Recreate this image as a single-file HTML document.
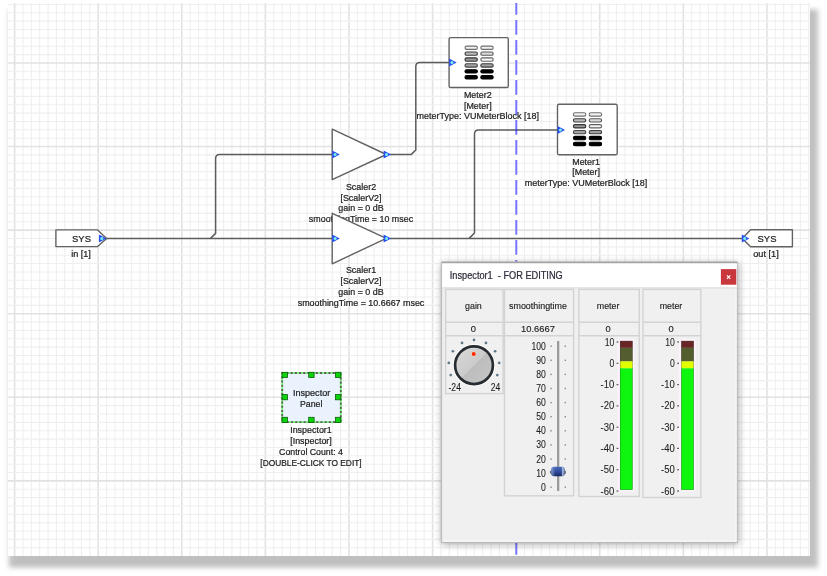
<!DOCTYPE html>
<html><head><meta charset="utf-8"><style>
html,body{margin:0;padding:0;background:#ffffff;width:827px;height:576px;overflow:hidden}
#cv{position:absolute;left:8px;top:3px;width:802.3px;height:553px;background:#fff;box-shadow:4.5px 9px 5px 3.3px rgba(0,0,0,0.25)}
#root{position:absolute;left:0;top:0;width:827px;height:576px;background:#fff;overflow:hidden;filter:blur(0.35px)}
svg{position:absolute;left:0;top:0}
text{font-family:'Liberation Sans',sans-serif}
</style></head><body>
<div id="root">
<div id="cv"></div>
<svg width="827" height="576" viewBox="0 0 827 576">
<defs>
<filter id="soft" x="-50%" y="-50%" width="200%" height="200%"><feGaussianBlur stdDeviation="0.5"/></filter>
<filter id="dlgsh" x="-10%" y="-10%" width="120%" height="120%"><feDropShadow dx="0.5" dy="1.2" stdDeviation="3.6" flood-color="#000" flood-opacity="0.36"/></filter>
<linearGradient id="kg" x1="0" y1="0" x2="1" y2="1">
<stop offset="0" stop-color="#dadada"/><stop offset="0.5" stop-color="#cbcbcb"/><stop offset="0.5" stop-color="#bdbdbd"/><stop offset="1" stop-color="#c6c6c6"/></linearGradient>
<linearGradient id="tg" x1="0" y1="0" x2="0" y2="1">
<stop offset="0" stop-color="#4a6ab8"/><stop offset="0.55" stop-color="#2d4c9c"/><stop offset="1" stop-color="#16275e"/></linearGradient>
<linearGradient id="tg2" x1="0" y1="0" x2="1" y2="0"><stop offset="0" stop-color="#9fb4e4" stop-opacity="0.7"/><stop offset="0.3" stop-color="#9fb4e4" stop-opacity="0"/><stop offset="0.75" stop-color="#c8d0e8" stop-opacity="0"/><stop offset="0.85" stop-color="#c8d0e8" stop-opacity="0.85"/><stop offset="1" stop-color="#c8d0e8" stop-opacity="0.3"/></linearGradient>
<clipPath id="cvclip"><rect x="8" y="3" width="802.3" height="553"/></clipPath>
</defs>
<g clip-path="url(#cvclip)">
<line x1="14.60" y1="3" x2="14.60" y2="556" stroke="#e2e2e2" stroke-width="1.6"/>
<line x1="22.96" y1="3" x2="22.96" y2="556" stroke="#efefef" stroke-width="1.1"/>
<line x1="31.32" y1="3" x2="31.32" y2="556" stroke="#efefef" stroke-width="1.1"/>
<line x1="39.68" y1="3" x2="39.68" y2="556" stroke="#efefef" stroke-width="1.1"/>
<line x1="48.04" y1="3" x2="48.04" y2="556" stroke="#efefef" stroke-width="1.1"/>
<line x1="56.40" y1="3" x2="56.40" y2="556" stroke="#efefef" stroke-width="1.1"/>
<line x1="64.75" y1="3" x2="64.75" y2="556" stroke="#efefef" stroke-width="1.1"/>
<line x1="73.11" y1="3" x2="73.11" y2="556" stroke="#efefef" stroke-width="1.1"/>
<line x1="81.47" y1="3" x2="81.47" y2="556" stroke="#efefef" stroke-width="1.1"/>
<line x1="89.83" y1="3" x2="89.83" y2="556" stroke="#efefef" stroke-width="1.1"/>
<line x1="98.19" y1="3" x2="98.19" y2="556" stroke="#e2e2e2" stroke-width="1.6"/>
<line x1="106.55" y1="3" x2="106.55" y2="556" stroke="#efefef" stroke-width="1.1"/>
<line x1="114.91" y1="3" x2="114.91" y2="556" stroke="#efefef" stroke-width="1.1"/>
<line x1="123.27" y1="3" x2="123.27" y2="556" stroke="#efefef" stroke-width="1.1"/>
<line x1="131.63" y1="3" x2="131.63" y2="556" stroke="#efefef" stroke-width="1.1"/>
<line x1="139.99" y1="3" x2="139.99" y2="556" stroke="#efefef" stroke-width="1.1"/>
<line x1="148.34" y1="3" x2="148.34" y2="556" stroke="#efefef" stroke-width="1.1"/>
<line x1="156.70" y1="3" x2="156.70" y2="556" stroke="#efefef" stroke-width="1.1"/>
<line x1="165.06" y1="3" x2="165.06" y2="556" stroke="#efefef" stroke-width="1.1"/>
<line x1="173.42" y1="3" x2="173.42" y2="556" stroke="#efefef" stroke-width="1.1"/>
<line x1="181.78" y1="3" x2="181.78" y2="556" stroke="#e2e2e2" stroke-width="1.6"/>
<line x1="190.14" y1="3" x2="190.14" y2="556" stroke="#efefef" stroke-width="1.1"/>
<line x1="198.50" y1="3" x2="198.50" y2="556" stroke="#efefef" stroke-width="1.1"/>
<line x1="206.86" y1="3" x2="206.86" y2="556" stroke="#efefef" stroke-width="1.1"/>
<line x1="215.22" y1="3" x2="215.22" y2="556" stroke="#efefef" stroke-width="1.1"/>
<line x1="223.57" y1="3" x2="223.57" y2="556" stroke="#efefef" stroke-width="1.1"/>
<line x1="231.93" y1="3" x2="231.93" y2="556" stroke="#efefef" stroke-width="1.1"/>
<line x1="240.29" y1="3" x2="240.29" y2="556" stroke="#efefef" stroke-width="1.1"/>
<line x1="248.65" y1="3" x2="248.65" y2="556" stroke="#efefef" stroke-width="1.1"/>
<line x1="257.01" y1="3" x2="257.01" y2="556" stroke="#efefef" stroke-width="1.1"/>
<line x1="265.37" y1="3" x2="265.37" y2="556" stroke="#e2e2e2" stroke-width="1.6"/>
<line x1="273.73" y1="3" x2="273.73" y2="556" stroke="#efefef" stroke-width="1.1"/>
<line x1="282.09" y1="3" x2="282.09" y2="556" stroke="#efefef" stroke-width="1.1"/>
<line x1="290.45" y1="3" x2="290.45" y2="556" stroke="#efefef" stroke-width="1.1"/>
<line x1="298.81" y1="3" x2="298.81" y2="556" stroke="#efefef" stroke-width="1.1"/>
<line x1="307.17" y1="3" x2="307.17" y2="556" stroke="#efefef" stroke-width="1.1"/>
<line x1="315.52" y1="3" x2="315.52" y2="556" stroke="#efefef" stroke-width="1.1"/>
<line x1="323.88" y1="3" x2="323.88" y2="556" stroke="#efefef" stroke-width="1.1"/>
<line x1="332.24" y1="3" x2="332.24" y2="556" stroke="#efefef" stroke-width="1.1"/>
<line x1="340.60" y1="3" x2="340.60" y2="556" stroke="#efefef" stroke-width="1.1"/>
<line x1="348.96" y1="3" x2="348.96" y2="556" stroke="#e2e2e2" stroke-width="1.6"/>
<line x1="357.32" y1="3" x2="357.32" y2="556" stroke="#efefef" stroke-width="1.1"/>
<line x1="365.68" y1="3" x2="365.68" y2="556" stroke="#efefef" stroke-width="1.1"/>
<line x1="374.04" y1="3" x2="374.04" y2="556" stroke="#efefef" stroke-width="1.1"/>
<line x1="382.40" y1="3" x2="382.40" y2="556" stroke="#efefef" stroke-width="1.1"/>
<line x1="390.75" y1="3" x2="390.75" y2="556" stroke="#efefef" stroke-width="1.1"/>
<line x1="399.11" y1="3" x2="399.11" y2="556" stroke="#efefef" stroke-width="1.1"/>
<line x1="407.47" y1="3" x2="407.47" y2="556" stroke="#efefef" stroke-width="1.1"/>
<line x1="415.83" y1="3" x2="415.83" y2="556" stroke="#efefef" stroke-width="1.1"/>
<line x1="424.19" y1="3" x2="424.19" y2="556" stroke="#efefef" stroke-width="1.1"/>
<line x1="432.55" y1="3" x2="432.55" y2="556" stroke="#e2e2e2" stroke-width="1.6"/>
<line x1="440.91" y1="3" x2="440.91" y2="556" stroke="#efefef" stroke-width="1.1"/>
<line x1="449.27" y1="3" x2="449.27" y2="556" stroke="#efefef" stroke-width="1.1"/>
<line x1="457.63" y1="3" x2="457.63" y2="556" stroke="#efefef" stroke-width="1.1"/>
<line x1="465.99" y1="3" x2="465.99" y2="556" stroke="#efefef" stroke-width="1.1"/>
<line x1="474.35" y1="3" x2="474.35" y2="556" stroke="#efefef" stroke-width="1.1"/>
<line x1="482.70" y1="3" x2="482.70" y2="556" stroke="#efefef" stroke-width="1.1"/>
<line x1="491.06" y1="3" x2="491.06" y2="556" stroke="#efefef" stroke-width="1.1"/>
<line x1="499.42" y1="3" x2="499.42" y2="556" stroke="#efefef" stroke-width="1.1"/>
<line x1="507.78" y1="3" x2="507.78" y2="556" stroke="#efefef" stroke-width="1.1"/>
<line x1="516.14" y1="3" x2="516.14" y2="556" stroke="#e2e2e2" stroke-width="1.6"/>
<line x1="524.50" y1="3" x2="524.50" y2="556" stroke="#efefef" stroke-width="1.1"/>
<line x1="532.86" y1="3" x2="532.86" y2="556" stroke="#efefef" stroke-width="1.1"/>
<line x1="541.22" y1="3" x2="541.22" y2="556" stroke="#efefef" stroke-width="1.1"/>
<line x1="549.58" y1="3" x2="549.58" y2="556" stroke="#efefef" stroke-width="1.1"/>
<line x1="557.94" y1="3" x2="557.94" y2="556" stroke="#efefef" stroke-width="1.1"/>
<line x1="566.29" y1="3" x2="566.29" y2="556" stroke="#efefef" stroke-width="1.1"/>
<line x1="574.65" y1="3" x2="574.65" y2="556" stroke="#efefef" stroke-width="1.1"/>
<line x1="583.01" y1="3" x2="583.01" y2="556" stroke="#efefef" stroke-width="1.1"/>
<line x1="591.37" y1="3" x2="591.37" y2="556" stroke="#efefef" stroke-width="1.1"/>
<line x1="599.73" y1="3" x2="599.73" y2="556" stroke="#e2e2e2" stroke-width="1.6"/>
<line x1="608.09" y1="3" x2="608.09" y2="556" stroke="#efefef" stroke-width="1.1"/>
<line x1="616.45" y1="3" x2="616.45" y2="556" stroke="#efefef" stroke-width="1.1"/>
<line x1="624.81" y1="3" x2="624.81" y2="556" stroke="#efefef" stroke-width="1.1"/>
<line x1="633.17" y1="3" x2="633.17" y2="556" stroke="#efefef" stroke-width="1.1"/>
<line x1="641.52" y1="3" x2="641.52" y2="556" stroke="#efefef" stroke-width="1.1"/>
<line x1="649.88" y1="3" x2="649.88" y2="556" stroke="#efefef" stroke-width="1.1"/>
<line x1="658.24" y1="3" x2="658.24" y2="556" stroke="#efefef" stroke-width="1.1"/>
<line x1="666.60" y1="3" x2="666.60" y2="556" stroke="#efefef" stroke-width="1.1"/>
<line x1="674.96" y1="3" x2="674.96" y2="556" stroke="#efefef" stroke-width="1.1"/>
<line x1="683.32" y1="3" x2="683.32" y2="556" stroke="#e2e2e2" stroke-width="1.6"/>
<line x1="691.68" y1="3" x2="691.68" y2="556" stroke="#efefef" stroke-width="1.1"/>
<line x1="700.04" y1="3" x2="700.04" y2="556" stroke="#efefef" stroke-width="1.1"/>
<line x1="708.40" y1="3" x2="708.40" y2="556" stroke="#efefef" stroke-width="1.1"/>
<line x1="716.76" y1="3" x2="716.76" y2="556" stroke="#efefef" stroke-width="1.1"/>
<line x1="725.12" y1="3" x2="725.12" y2="556" stroke="#efefef" stroke-width="1.1"/>
<line x1="733.47" y1="3" x2="733.47" y2="556" stroke="#efefef" stroke-width="1.1"/>
<line x1="741.83" y1="3" x2="741.83" y2="556" stroke="#efefef" stroke-width="1.1"/>
<line x1="750.19" y1="3" x2="750.19" y2="556" stroke="#efefef" stroke-width="1.1"/>
<line x1="758.55" y1="3" x2="758.55" y2="556" stroke="#efefef" stroke-width="1.1"/>
<line x1="766.91" y1="3" x2="766.91" y2="556" stroke="#e2e2e2" stroke-width="1.6"/>
<line x1="775.27" y1="3" x2="775.27" y2="556" stroke="#efefef" stroke-width="1.1"/>
<line x1="783.63" y1="3" x2="783.63" y2="556" stroke="#efefef" stroke-width="1.1"/>
<line x1="791.99" y1="3" x2="791.99" y2="556" stroke="#efefef" stroke-width="1.1"/>
<line x1="800.35" y1="3" x2="800.35" y2="556" stroke="#efefef" stroke-width="1.1"/>
<line x1="808.71" y1="3" x2="808.71" y2="556" stroke="#efefef" stroke-width="1.1"/>
<line x1="8" y1="4.44" x2="810.3" y2="4.44" stroke="#efefef" stroke-width="1.1"/>
<line x1="8" y1="12.80" x2="810.3" y2="12.80" stroke="#efefef" stroke-width="1.1"/>
<line x1="8" y1="21.16" x2="810.3" y2="21.16" stroke="#efefef" stroke-width="1.1"/>
<line x1="8" y1="29.51" x2="810.3" y2="29.51" stroke="#efefef" stroke-width="1.1"/>
<line x1="8" y1="37.87" x2="810.3" y2="37.87" stroke="#efefef" stroke-width="1.1"/>
<line x1="8" y1="46.23" x2="810.3" y2="46.23" stroke="#efefef" stroke-width="1.1"/>
<line x1="8" y1="54.59" x2="810.3" y2="54.59" stroke="#efefef" stroke-width="1.1"/>
<line x1="8" y1="62.95" x2="810.3" y2="62.95" stroke="#e2e2e2" stroke-width="1.6"/>
<line x1="8" y1="71.31" x2="810.3" y2="71.31" stroke="#efefef" stroke-width="1.1"/>
<line x1="8" y1="79.67" x2="810.3" y2="79.67" stroke="#efefef" stroke-width="1.1"/>
<line x1="8" y1="88.03" x2="810.3" y2="88.03" stroke="#efefef" stroke-width="1.1"/>
<line x1="8" y1="96.39" x2="810.3" y2="96.39" stroke="#efefef" stroke-width="1.1"/>
<line x1="8" y1="104.75" x2="810.3" y2="104.75" stroke="#efefef" stroke-width="1.1"/>
<line x1="8" y1="113.10" x2="810.3" y2="113.10" stroke="#efefef" stroke-width="1.1"/>
<line x1="8" y1="121.46" x2="810.3" y2="121.46" stroke="#efefef" stroke-width="1.1"/>
<line x1="8" y1="129.82" x2="810.3" y2="129.82" stroke="#efefef" stroke-width="1.1"/>
<line x1="8" y1="138.18" x2="810.3" y2="138.18" stroke="#efefef" stroke-width="1.1"/>
<line x1="8" y1="146.54" x2="810.3" y2="146.54" stroke="#e2e2e2" stroke-width="1.6"/>
<line x1="8" y1="154.90" x2="810.3" y2="154.90" stroke="#efefef" stroke-width="1.1"/>
<line x1="8" y1="163.26" x2="810.3" y2="163.26" stroke="#efefef" stroke-width="1.1"/>
<line x1="8" y1="171.62" x2="810.3" y2="171.62" stroke="#efefef" stroke-width="1.1"/>
<line x1="8" y1="179.98" x2="810.3" y2="179.98" stroke="#efefef" stroke-width="1.1"/>
<line x1="8" y1="188.34" x2="810.3" y2="188.34" stroke="#efefef" stroke-width="1.1"/>
<line x1="8" y1="196.69" x2="810.3" y2="196.69" stroke="#efefef" stroke-width="1.1"/>
<line x1="8" y1="205.05" x2="810.3" y2="205.05" stroke="#efefef" stroke-width="1.1"/>
<line x1="8" y1="213.41" x2="810.3" y2="213.41" stroke="#efefef" stroke-width="1.1"/>
<line x1="8" y1="221.77" x2="810.3" y2="221.77" stroke="#efefef" stroke-width="1.1"/>
<line x1="8" y1="230.13" x2="810.3" y2="230.13" stroke="#e2e2e2" stroke-width="1.6"/>
<line x1="8" y1="238.49" x2="810.3" y2="238.49" stroke="#efefef" stroke-width="1.1"/>
<line x1="8" y1="246.85" x2="810.3" y2="246.85" stroke="#efefef" stroke-width="1.1"/>
<line x1="8" y1="255.21" x2="810.3" y2="255.21" stroke="#efefef" stroke-width="1.1"/>
<line x1="8" y1="263.57" x2="810.3" y2="263.57" stroke="#efefef" stroke-width="1.1"/>
<line x1="8" y1="271.93" x2="810.3" y2="271.93" stroke="#efefef" stroke-width="1.1"/>
<line x1="8" y1="280.28" x2="810.3" y2="280.28" stroke="#efefef" stroke-width="1.1"/>
<line x1="8" y1="288.64" x2="810.3" y2="288.64" stroke="#efefef" stroke-width="1.1"/>
<line x1="8" y1="297.00" x2="810.3" y2="297.00" stroke="#efefef" stroke-width="1.1"/>
<line x1="8" y1="305.36" x2="810.3" y2="305.36" stroke="#efefef" stroke-width="1.1"/>
<line x1="8" y1="313.72" x2="810.3" y2="313.72" stroke="#e2e2e2" stroke-width="1.6"/>
<line x1="8" y1="322.08" x2="810.3" y2="322.08" stroke="#efefef" stroke-width="1.1"/>
<line x1="8" y1="330.44" x2="810.3" y2="330.44" stroke="#efefef" stroke-width="1.1"/>
<line x1="8" y1="338.80" x2="810.3" y2="338.80" stroke="#efefef" stroke-width="1.1"/>
<line x1="8" y1="347.16" x2="810.3" y2="347.16" stroke="#efefef" stroke-width="1.1"/>
<line x1="8" y1="355.51" x2="810.3" y2="355.51" stroke="#efefef" stroke-width="1.1"/>
<line x1="8" y1="363.87" x2="810.3" y2="363.87" stroke="#efefef" stroke-width="1.1"/>
<line x1="8" y1="372.23" x2="810.3" y2="372.23" stroke="#efefef" stroke-width="1.1"/>
<line x1="8" y1="380.59" x2="810.3" y2="380.59" stroke="#efefef" stroke-width="1.1"/>
<line x1="8" y1="388.95" x2="810.3" y2="388.95" stroke="#efefef" stroke-width="1.1"/>
<line x1="8" y1="397.31" x2="810.3" y2="397.31" stroke="#e2e2e2" stroke-width="1.6"/>
<line x1="8" y1="405.67" x2="810.3" y2="405.67" stroke="#efefef" stroke-width="1.1"/>
<line x1="8" y1="414.03" x2="810.3" y2="414.03" stroke="#efefef" stroke-width="1.1"/>
<line x1="8" y1="422.39" x2="810.3" y2="422.39" stroke="#efefef" stroke-width="1.1"/>
<line x1="8" y1="430.75" x2="810.3" y2="430.75" stroke="#efefef" stroke-width="1.1"/>
<line x1="8" y1="439.10" x2="810.3" y2="439.10" stroke="#efefef" stroke-width="1.1"/>
<line x1="8" y1="447.46" x2="810.3" y2="447.46" stroke="#efefef" stroke-width="1.1"/>
<line x1="8" y1="455.82" x2="810.3" y2="455.82" stroke="#efefef" stroke-width="1.1"/>
<line x1="8" y1="464.18" x2="810.3" y2="464.18" stroke="#efefef" stroke-width="1.1"/>
<line x1="8" y1="472.54" x2="810.3" y2="472.54" stroke="#efefef" stroke-width="1.1"/>
<line x1="8" y1="480.90" x2="810.3" y2="480.90" stroke="#e2e2e2" stroke-width="1.6"/>
<line x1="8" y1="489.26" x2="810.3" y2="489.26" stroke="#efefef" stroke-width="1.1"/>
<line x1="8" y1="497.62" x2="810.3" y2="497.62" stroke="#efefef" stroke-width="1.1"/>
<line x1="8" y1="505.98" x2="810.3" y2="505.98" stroke="#efefef" stroke-width="1.1"/>
<line x1="8" y1="514.34" x2="810.3" y2="514.34" stroke="#efefef" stroke-width="1.1"/>
<line x1="8" y1="522.70" x2="810.3" y2="522.70" stroke="#efefef" stroke-width="1.1"/>
<line x1="8" y1="531.05" x2="810.3" y2="531.05" stroke="#efefef" stroke-width="1.1"/>
<line x1="8" y1="539.41" x2="810.3" y2="539.41" stroke="#efefef" stroke-width="1.1"/>
<line x1="8" y1="547.77" x2="810.3" y2="547.77" stroke="#efefef" stroke-width="1.1"/>
<line x1="516.3" y1="0" x2="516.3" y2="556" stroke="#ffffff" stroke-width="2.4"/>
<path d="M106 238.4 H332" fill="none" stroke="#5c5c5c" stroke-width="1.5" stroke-linejoin="round"/>
<path d="M210.5 238.4 L215.6 233.4 V158.5 Q215.6 154.5 219.6 154.5 H333" fill="none" stroke="#5c5c5c" stroke-width="1.5" stroke-linejoin="round"/>
<path d="M390 154.4 H411.4 L415.8 150 V66.5 Q415.8 62.5 419.8 62.5 H450" fill="none" stroke="#5c5c5c" stroke-width="1.5" stroke-linejoin="round"/>
<path d="M390 238.4 H742.5" fill="none" stroke="#5c5c5c" stroke-width="1.5" stroke-linejoin="round"/>
<path d="M469.2 238.4 L474.5 233 V134 Q474.5 130 478.5 130 H558" fill="none" stroke="#5c5c5c" stroke-width="1.5" stroke-linejoin="round"/>
<polygon points="55.9,229.9 97.6,229.9 106.6,238.4 97.6,246.6 55.9,246.6" fill="#ffffff" stroke="#626262" stroke-width="1.4" stroke-linejoin="round"/>
<polygon points="98.9,234.4 106.5,238.4 98.9,242.4" fill="#2b50f2"/><circle cx="101.8" cy="238.4" r="1.5" fill="#78f3e6" filter="url(#soft)"/>
<text x="81.5" y="242.4" text-anchor="middle" font-size="9.5" fill="#1c1c1c" stroke="#1c1c1c" stroke-width="0.22" textLength="18.9" lengthAdjust="spacingAndGlyphs" >SYS</text>
<text x="81" y="256.8" text-anchor="middle" font-size="9.5" fill="#1c1c1c" stroke="#1c1c1c" stroke-width="0.22" textLength="19.7" lengthAdjust="spacingAndGlyphs" >in [1]</text>
<polygon points="742.3,238.4 750.6,229.7 792.4,229.7 792.4,246.8 750.6,246.8" fill="#ffffff" stroke="#626262" stroke-width="1.4" stroke-linejoin="round"/>
<polygon points="741.8,234.4 749.4,238.4 741.8,242.4" fill="#2b50f2"/><circle cx="744.7" cy="238.4" r="1.5" fill="#78f3e6" filter="url(#soft)"/>
<text x="767" y="242.4" text-anchor="middle" font-size="9.5" fill="#1c1c1c" stroke="#1c1c1c" stroke-width="0.22" textLength="18.9" lengthAdjust="spacingAndGlyphs" >SYS</text>
<text x="766" y="256.8" text-anchor="middle" font-size="9.5" fill="#1c1c1c" stroke="#1c1c1c" stroke-width="0.22" textLength="25.5" lengthAdjust="spacingAndGlyphs" >out [1]</text>
<polygon points="332.2,129.1 386.3,154.5 332.2,179.6" fill="#ffffff" stroke="#626262" stroke-width="1.4" stroke-linejoin="round"/>
<polygon points="332.2,150.6 339.8,154.6 332.2,158.6" fill="#2b50f2"/><circle cx="335.1" cy="154.6" r="1.5" fill="#78f3e6" filter="url(#soft)"/>
<polygon points="383.6,150.5 391.2,154.5 383.6,158.5" fill="#2b50f2"/><circle cx="386.5" cy="154.5" r="1.5" fill="#78f3e6" filter="url(#soft)"/>
<text x="361" y="189.8" text-anchor="middle" font-size="9.5" fill="#1c1c1c" stroke="#1c1c1c" stroke-width="0.22" textLength="30.2" lengthAdjust="spacingAndGlyphs" >Scaler2</text>
<text x="361" y="200.5" text-anchor="middle" font-size="9.5" fill="#1c1c1c" stroke="#1c1c1c" stroke-width="0.22" textLength="41.1" lengthAdjust="spacingAndGlyphs" >[ScalerV2]</text>
<text x="361" y="211.2" text-anchor="middle" font-size="9.5" fill="#1c1c1c" stroke="#1c1c1c" stroke-width="0.22" textLength="45.3" lengthAdjust="spacingAndGlyphs" >gain = 0 dB</text>
<text x="361" y="221.9" text-anchor="middle" font-size="9.5" fill="#1c1c1c" stroke="#1c1c1c" stroke-width="0.22" textLength="104.3" lengthAdjust="spacingAndGlyphs" >smoothingTime = 10 msec</text>
<polygon points="332.2,213.3 386.3,238.4 332.2,263.8" fill="#ffffff" stroke="#626262" stroke-width="1.4" stroke-linejoin="round"/>
<polygon points="332.2,234.4 339.8,238.4 332.2,242.4" fill="#2b50f2"/><circle cx="335.1" cy="238.4" r="1.5" fill="#78f3e6" filter="url(#soft)"/>
<polygon points="383.6,234.4 391.2,238.4 383.6,242.4" fill="#2b50f2"/><circle cx="386.5" cy="238.4" r="1.5" fill="#78f3e6" filter="url(#soft)"/>
<text x="361" y="273.1" text-anchor="middle" font-size="9.5" fill="#1c1c1c" stroke="#1c1c1c" stroke-width="0.22" textLength="30.2" lengthAdjust="spacingAndGlyphs" >Scaler1</text>
<text x="361" y="283.9" text-anchor="middle" font-size="9.5" fill="#1c1c1c" stroke="#1c1c1c" stroke-width="0.22" textLength="41.1" lengthAdjust="spacingAndGlyphs" >[ScalerV2]</text>
<text x="361" y="294.7" text-anchor="middle" font-size="9.5" fill="#1c1c1c" stroke="#1c1c1c" stroke-width="0.22" textLength="45.3" lengthAdjust="spacingAndGlyphs" >gain = 0 dB</text>
<text x="361" y="305.5" text-anchor="middle" font-size="9.5" fill="#1c1c1c" stroke="#1c1c1c" stroke-width="0.22" textLength="126.6" lengthAdjust="spacingAndGlyphs" >smoothingTime = 10.6667 msec</text>
<rect x="449.1" y="37.6" width="59.2" height="49.9" rx="1.6" fill="#ffffff" stroke="#626262" stroke-width="1.4" stroke-linejoin="round"/>
<rect x="465.0" y="46.1" width="12.4" height="3.3" rx="1.65" fill="#f2f2f2" stroke="#6e6e6e" stroke-width="1.1"/>
<rect x="480.8" y="46.1" width="12.4" height="3.3" rx="1.65" fill="#f2f2f2" stroke="#6e6e6e" stroke-width="1.1"/>
<rect x="465.0" y="52.0" width="12.4" height="3.3" rx="1.65" fill="#bcbcbc" stroke="#3c3c3c" stroke-width="1.1"/>
<rect x="480.8" y="52.0" width="12.4" height="3.3" rx="1.65" fill="#dadada" stroke="#5a5a5a" stroke-width="1.1"/>
<rect x="465.0" y="57.9" width="12.4" height="3.3" rx="1.65" fill="#9a9a9a" stroke="#333333" stroke-width="1.1"/>
<rect x="480.8" y="57.9" width="12.4" height="3.3" rx="1.65" fill="#f6f6f6" stroke="#606060" stroke-width="1.1"/>
<rect x="465.0" y="63.8" width="12.4" height="3.3" rx="1.65" fill="#a4a4a4" stroke="#444444" stroke-width="1.1"/>
<rect x="480.8" y="63.8" width="12.4" height="3.3" rx="1.65" fill="#a0a0a0" stroke="#3c3c3c" stroke-width="1.1"/>
<rect x="465.0" y="69.7" width="12.4" height="3.3" rx="1.65" fill="#000000" stroke="#000000" stroke-width="1.1"/>
<rect x="480.8" y="69.7" width="12.4" height="3.3" rx="1.65" fill="#000000" stroke="#000000" stroke-width="1.1"/>
<rect x="465.0" y="75.6" width="12.4" height="3.3" rx="1.65" fill="#000000" stroke="#000000" stroke-width="1.1"/>
<rect x="480.8" y="75.6" width="12.4" height="3.3" rx="1.65" fill="#000000" stroke="#000000" stroke-width="1.1"/>
<polygon points="449.1,58.5 456.7,62.5 449.1,66.5" fill="#2b50f2"/><circle cx="452.0" cy="62.5" r="1.5" fill="#78f3e6" filter="url(#soft)"/>
<text x="477.8" y="98.0" text-anchor="middle" font-size="9.5" fill="#1c1c1c" stroke="#1c1c1c" stroke-width="0.22" textLength="27.7" lengthAdjust="spacingAndGlyphs" >Meter2</text>
<text x="477.8" y="108.6" text-anchor="middle" font-size="9.5" fill="#1c1c1c" stroke="#1c1c1c" stroke-width="0.22" textLength="27.7" lengthAdjust="spacingAndGlyphs" >[Meter]</text>
<text x="477.8" y="119.2" text-anchor="middle" font-size="9.5" fill="#1c1c1c" stroke="#1c1c1c" stroke-width="0.22" textLength="122.5" lengthAdjust="spacingAndGlyphs" >meterType: VUMeterBlock [18]</text>
<rect x="557.5" y="104.3" width="59.7" height="50.5" rx="1.6" fill="#ffffff" stroke="#626262" stroke-width="1.4" stroke-linejoin="round"/>
<rect x="573.4" y="112.8" width="12.4" height="3.3" rx="1.65" fill="#f2f2f2" stroke="#6e6e6e" stroke-width="1.1"/>
<rect x="589.2" y="112.8" width="12.4" height="3.3" rx="1.65" fill="#f2f2f2" stroke="#6e6e6e" stroke-width="1.1"/>
<rect x="573.4" y="118.7" width="12.4" height="3.3" rx="1.65" fill="#bcbcbc" stroke="#3c3c3c" stroke-width="1.1"/>
<rect x="589.2" y="118.7" width="12.4" height="3.3" rx="1.65" fill="#dadada" stroke="#5a5a5a" stroke-width="1.1"/>
<rect x="573.4" y="124.6" width="12.4" height="3.3" rx="1.65" fill="#9a9a9a" stroke="#333333" stroke-width="1.1"/>
<rect x="589.2" y="124.6" width="12.4" height="3.3" rx="1.65" fill="#f6f6f6" stroke="#606060" stroke-width="1.1"/>
<rect x="573.4" y="130.5" width="12.4" height="3.3" rx="1.65" fill="#a4a4a4" stroke="#444444" stroke-width="1.1"/>
<rect x="589.2" y="130.5" width="12.4" height="3.3" rx="1.65" fill="#a0a0a0" stroke="#3c3c3c" stroke-width="1.1"/>
<rect x="573.4" y="136.4" width="12.4" height="3.3" rx="1.65" fill="#000000" stroke="#000000" stroke-width="1.1"/>
<rect x="589.2" y="136.4" width="12.4" height="3.3" rx="1.65" fill="#000000" stroke="#000000" stroke-width="1.1"/>
<rect x="573.4" y="142.3" width="12.4" height="3.3" rx="1.65" fill="#000000" stroke="#000000" stroke-width="1.1"/>
<rect x="589.2" y="142.3" width="12.4" height="3.3" rx="1.65" fill="#000000" stroke="#000000" stroke-width="1.1"/>
<polygon points="557.5,126.0 565.1,130.0 557.5,134.0" fill="#2b50f2"/><circle cx="560.4" cy="130.0" r="1.5" fill="#78f3e6" filter="url(#soft)"/>
<text x="586.1" y="164.9" text-anchor="middle" font-size="9.5" fill="#1c1c1c" stroke="#1c1c1c" stroke-width="0.22" textLength="27.7" lengthAdjust="spacingAndGlyphs" >Meter1</text>
<text x="586.1" y="175.4" text-anchor="middle" font-size="9.5" fill="#1c1c1c" stroke="#1c1c1c" stroke-width="0.22" textLength="27.7" lengthAdjust="spacingAndGlyphs" >[Meter]</text>
<text x="586.1" y="185.9" text-anchor="middle" font-size="9.5" fill="#1c1c1c" stroke="#1c1c1c" stroke-width="0.22" textLength="122.5" lengthAdjust="spacingAndGlyphs" >meterType: VUMeterBlock [18]</text>
<rect x="282.2" y="373.0" width="58.6" height="49.1" fill="#eaf3fd"/>
<rect x="282.2" y="373.0" width="58.6" height="49.1" fill="none" stroke="#7aef7a" stroke-width="1.8"/>
<rect x="282.2" y="373.0" width="58.6" height="49.1" fill="none" stroke="#5a625a" stroke-width="1.8" stroke-dasharray="2.1 2.1"/>
<rect x="282.1" y="372.3" width="5.4" height="5.2" fill="#0ad40a" stroke="#0d5c0d" stroke-width="0.8"/>
<rect x="308.7" y="372.3" width="5.4" height="5.2" fill="#0ad40a" stroke="#0d5c0d" stroke-width="0.8"/>
<rect x="335.4" y="372.3" width="5.4" height="5.2" fill="#0ad40a" stroke="#0d5c0d" stroke-width="0.8"/>
<rect x="282.1" y="394.6" width="5.4" height="5.2" fill="#0ad40a" stroke="#0d5c0d" stroke-width="0.8"/>
<rect x="335.4" y="394.6" width="5.4" height="5.2" fill="#0ad40a" stroke="#0d5c0d" stroke-width="0.8"/>
<rect x="282.1" y="417.3" width="5.4" height="5.2" fill="#0ad40a" stroke="#0d5c0d" stroke-width="0.8"/>
<rect x="308.7" y="417.3" width="5.4" height="5.2" fill="#0ad40a" stroke="#0d5c0d" stroke-width="0.8"/>
<rect x="335.4" y="417.3" width="5.4" height="5.2" fill="#0ad40a" stroke="#0d5c0d" stroke-width="0.8"/>
<text x="311.6" y="395.5" text-anchor="middle" font-size="9.5" fill="#1c1c1c" stroke="#1c1c1c" stroke-width="0.22" textLength="37.3" lengthAdjust="spacingAndGlyphs" >Inspector</text>
<text x="311.2" y="406.6" text-anchor="middle" font-size="9.5" fill="#1c1c1c" stroke="#1c1c1c" stroke-width="0.22" textLength="22.4" lengthAdjust="spacingAndGlyphs" >Panel</text>
<text x="311" y="432.9" text-anchor="middle" font-size="9.5" fill="#1c1c1c" stroke="#1c1c1c" stroke-width="0.22" textLength="41.6" lengthAdjust="spacingAndGlyphs" >Inspector1</text>
<text x="311" y="443.8" text-anchor="middle" font-size="9.5" fill="#1c1c1c" stroke="#1c1c1c" stroke-width="0.22" textLength="41.6" lengthAdjust="spacingAndGlyphs" >[Inspector]</text>
<text x="311" y="454.7" text-anchor="middle" font-size="9.5" fill="#1c1c1c" stroke="#1c1c1c" stroke-width="0.22" textLength="63.8" lengthAdjust="spacingAndGlyphs" >Control Count: 4</text>
<text x="311" y="465.6" text-anchor="middle" font-size="9.5" fill="#1c1c1c" stroke="#1c1c1c" stroke-width="0.22" textLength="101.3" lengthAdjust="spacingAndGlyphs" >[DOUBLE-CLICK TO EDIT]</text>
<line x1="516.3" y1="0" x2="516.3" y2="556" stroke="rgb(25,25,255)" stroke-opacity="0.6" stroke-width="2.0" stroke-dasharray="14.8 5.2" stroke-dashoffset="0"/>
<rect x="441.6" y="262.4" width="295.7" height="280.1" fill="#f0f0f0" stroke="#b8b8b8" stroke-width="1" filter="url(#dlgsh)"/>
<rect x="442.1" y="262.9" width="294.7" height="24.7" fill="#ffffff"/>
<line x1="441.6" y1="262.4" x2="737.3" y2="262.4" stroke="#a4a4a4" stroke-width="1.6"/>
<path d="M442.8 541.1 H735.9 V288.5" fill="none" stroke="#f7f7f7" stroke-width="1.1"/>
<line x1="442.1" y1="287.9" x2="736.8" y2="287.9" stroke="#dedede" stroke-width="1.4"/>
<text x="449.8" y="279.2" text-anchor="start" font-size="10" fill="#2e2a3a" stroke="#2e2a3a" stroke-width="0.22" textLength="112.9" lengthAdjust="spacingAndGlyphs" xml:space="preserve">Inspector1  - FOR EDITING</text>
<rect x="720.9" y="269.1" width="15.4" height="15.6" fill="#c9383c"/>
<path d="M726.9 275.3 L730.3 278.9 M730.3 275.3 L726.9 278.9" stroke="#ffffff" stroke-width="1.1"/>
<rect x="445.6" y="289.4" width="57.5" height="104.2" fill="#f0f0f0" stroke="#d3d3d3" stroke-width="1.4"/>
<line x1="445.6" y1="322.3" x2="503.1" y2="322.3" stroke="#d3d3d3" stroke-width="1.4"/>
<line x1="445.6" y1="335.8" x2="503.1" y2="335.8" stroke="#d3d3d3" stroke-width="1.4"/>
<text x="473.4" y="309.3" text-anchor="middle" font-size="9.2" fill="#1c1c1c" stroke="#1c1c1c" stroke-width="0.14" textLength="16.8" lengthAdjust="spacingAndGlyphs" >gain</text>
<text x="473.4" y="331.9" text-anchor="middle" font-size="9.4" fill="#1c1c1c" stroke="#1c1c1c" stroke-width="0.14" textLength="5.2" lengthAdjust="spacingAndGlyphs" >0</text>
<rect x="504.5" y="289.4" width="69.1" height="206.4" fill="#f0f0f0" stroke="#d3d3d3" stroke-width="1.4"/>
<line x1="504.5" y1="322.3" x2="573.6" y2="322.3" stroke="#d3d3d3" stroke-width="1.4"/>
<line x1="504.5" y1="335.8" x2="573.6" y2="335.8" stroke="#d3d3d3" stroke-width="1.4"/>
<text x="538.0" y="309.3" text-anchor="middle" font-size="9.2" fill="#1c1c1c" stroke="#1c1c1c" stroke-width="0.14" textLength="57.9" lengthAdjust="spacingAndGlyphs" >smoothingtime</text>
<text x="538.0" y="331.9" text-anchor="middle" font-size="9.4" fill="#1c1c1c" stroke="#1c1c1c" stroke-width="0.14" textLength="33.8" lengthAdjust="spacingAndGlyphs" >10.6667</text>
<rect x="578.9" y="289.4" width="60.4" height="207.1" fill="#f0f0f0" stroke="#d3d3d3" stroke-width="1.4"/>
<line x1="578.9" y1="322.3" x2="639.3" y2="322.3" stroke="#d3d3d3" stroke-width="1.4"/>
<line x1="578.9" y1="335.8" x2="639.3" y2="335.8" stroke="#d3d3d3" stroke-width="1.4"/>
<text x="608.1" y="309.3" text-anchor="middle" font-size="9.2" fill="#1c1c1c" stroke="#1c1c1c" stroke-width="0.14" textLength="22.7" lengthAdjust="spacingAndGlyphs" >meter</text>
<text x="608.1" y="331.9" text-anchor="middle" font-size="9.4" fill="#1c1c1c" stroke="#1c1c1c" stroke-width="0.14" textLength="5.2" lengthAdjust="spacingAndGlyphs" >0</text>
<rect x="643.0" y="289.4" width="57.9" height="208.1" fill="#f0f0f0" stroke="#d3d3d3" stroke-width="1.4"/>
<line x1="643.0" y1="322.3" x2="700.9" y2="322.3" stroke="#d3d3d3" stroke-width="1.4"/>
<line x1="643.0" y1="335.8" x2="700.9" y2="335.8" stroke="#d3d3d3" stroke-width="1.4"/>
<text x="671.0" y="309.3" text-anchor="middle" font-size="9.2" fill="#1c1c1c" stroke="#1c1c1c" stroke-width="0.14" textLength="22.7" lengthAdjust="spacingAndGlyphs" >meter</text>
<text x="671.0" y="331.9" text-anchor="middle" font-size="9.4" fill="#1c1c1c" stroke="#1c1c1c" stroke-width="0.14" textLength="5.2" lengthAdjust="spacingAndGlyphs" >0</text>
<circle cx="450.71" cy="375.09" r="1.35" fill="#5e7886"/>
<circle cx="448.81" cy="362.89" r="1.35" fill="#5e7886"/>
<circle cx="452.90" cy="351.24" r="1.35" fill="#5e7886"/>
<circle cx="462.03" cy="342.91" r="1.35" fill="#5e7886"/>
<circle cx="474.00" cy="339.90" r="1.35" fill="#5e7886"/>
<circle cx="485.97" cy="342.91" r="1.35" fill="#5e7886"/>
<circle cx="495.10" cy="351.24" r="1.35" fill="#5e7886"/>
<circle cx="499.19" cy="362.89" r="1.35" fill="#5e7886"/>
<circle cx="497.29" cy="375.09" r="1.35" fill="#5e7886"/>
<circle cx="474.0" cy="365.2" r="21.2" fill="#ffffff" opacity="0.8"/>
<circle cx="474.0" cy="365.2" r="18.9" fill="url(#kg)" stroke="#262c31" stroke-width="2.7"/>
<circle cx="473.7" cy="354.0" r="2.6" fill="#ffd8c8" opacity="0.6"/>
<circle cx="473.7" cy="354.0" r="2.0" fill="#ff2a00"/>
<text x="454.7" y="390.6" text-anchor="middle" font-size="10" fill="#1c1c1c" stroke="#1c1c1c" stroke-width="0.08" textLength="12.4" lengthAdjust="spacingAndGlyphs" >-24</text>
<text x="495.6" y="390.6" text-anchor="middle" font-size="10" fill="#1c1c1c" stroke="#1c1c1c" stroke-width="0.08" textLength="9.6" lengthAdjust="spacingAndGlyphs" >24</text>
<rect x="557" y="341" width="2.3" height="150" fill="#9b9b9b"/>
<text x="545.8" y="349.7" text-anchor="end" font-size="10" fill="#1c1c1c" stroke="#1c1c1c" stroke-width="0.08" textLength="14.3" lengthAdjust="spacingAndGlyphs" >100</text>
<rect x="550.4" y="345.5" width="1.4" height="1.4" fill="#8a8a8a"/>
<rect x="564.6" y="345.5" width="1.4" height="1.4" fill="#8a8a8a"/>
<text x="545.8" y="363.8" text-anchor="end" font-size="10" fill="#1c1c1c" stroke="#1c1c1c" stroke-width="0.08" textLength="9.6" lengthAdjust="spacingAndGlyphs" >90</text>
<rect x="550.4" y="359.6" width="1.4" height="1.4" fill="#8a8a8a"/>
<rect x="564.6" y="359.6" width="1.4" height="1.4" fill="#8a8a8a"/>
<text x="545.8" y="377.9" text-anchor="end" font-size="10" fill="#1c1c1c" stroke="#1c1c1c" stroke-width="0.08" textLength="9.6" lengthAdjust="spacingAndGlyphs" >80</text>
<rect x="550.4" y="373.7" width="1.4" height="1.4" fill="#8a8a8a"/>
<rect x="564.6" y="373.7" width="1.4" height="1.4" fill="#8a8a8a"/>
<text x="545.8" y="392.0" text-anchor="end" font-size="10" fill="#1c1c1c" stroke="#1c1c1c" stroke-width="0.08" textLength="9.6" lengthAdjust="spacingAndGlyphs" >70</text>
<rect x="550.4" y="387.8" width="1.4" height="1.4" fill="#8a8a8a"/>
<rect x="564.6" y="387.8" width="1.4" height="1.4" fill="#8a8a8a"/>
<text x="545.8" y="406.1" text-anchor="end" font-size="10" fill="#1c1c1c" stroke="#1c1c1c" stroke-width="0.08" textLength="9.6" lengthAdjust="spacingAndGlyphs" >60</text>
<rect x="550.4" y="401.9" width="1.4" height="1.4" fill="#8a8a8a"/>
<rect x="564.6" y="401.9" width="1.4" height="1.4" fill="#8a8a8a"/>
<text x="545.8" y="420.2" text-anchor="end" font-size="10" fill="#1c1c1c" stroke="#1c1c1c" stroke-width="0.08" textLength="9.6" lengthAdjust="spacingAndGlyphs" >50</text>
<rect x="550.4" y="416.0" width="1.4" height="1.4" fill="#8a8a8a"/>
<rect x="564.6" y="416.0" width="1.4" height="1.4" fill="#8a8a8a"/>
<text x="545.8" y="434.3" text-anchor="end" font-size="10" fill="#1c1c1c" stroke="#1c1c1c" stroke-width="0.08" textLength="9.6" lengthAdjust="spacingAndGlyphs" >40</text>
<rect x="550.4" y="430.1" width="1.4" height="1.4" fill="#8a8a8a"/>
<rect x="564.6" y="430.1" width="1.4" height="1.4" fill="#8a8a8a"/>
<text x="545.8" y="448.4" text-anchor="end" font-size="10" fill="#1c1c1c" stroke="#1c1c1c" stroke-width="0.08" textLength="9.6" lengthAdjust="spacingAndGlyphs" >30</text>
<rect x="550.4" y="444.2" width="1.4" height="1.4" fill="#8a8a8a"/>
<rect x="564.6" y="444.2" width="1.4" height="1.4" fill="#8a8a8a"/>
<text x="545.8" y="462.5" text-anchor="end" font-size="10" fill="#1c1c1c" stroke="#1c1c1c" stroke-width="0.08" textLength="9.6" lengthAdjust="spacingAndGlyphs" >20</text>
<rect x="550.4" y="458.3" width="1.4" height="1.4" fill="#8a8a8a"/>
<rect x="564.6" y="458.3" width="1.4" height="1.4" fill="#8a8a8a"/>
<text x="545.8" y="476.6" text-anchor="end" font-size="10" fill="#1c1c1c" stroke="#1c1c1c" stroke-width="0.08" textLength="9.6" lengthAdjust="spacingAndGlyphs" >10</text>
<rect x="550.4" y="472.4" width="1.4" height="1.4" fill="#8a8a8a"/>
<rect x="564.6" y="472.4" width="1.4" height="1.4" fill="#8a8a8a"/>
<text x="545.8" y="490.7" text-anchor="end" font-size="10" fill="#1c1c1c" stroke="#1c1c1c" stroke-width="0.08" textLength="4.8" lengthAdjust="spacingAndGlyphs" >0</text>
<rect x="550.4" y="486.5" width="1.4" height="1.4" fill="#8a8a8a"/>
<rect x="564.6" y="486.5" width="1.4" height="1.4" fill="#8a8a8a"/>
<path d="M549.6 472 L552.4 468.6 V475.4 Z M566.2 472 L563.4 468.6 V475.4 Z" fill="#5a5f6a"/>
<rect x="551.3" y="466.8" width="13.4" height="9.4" rx="2.6" fill="url(#tg)"/>
<rect x="551.3" y="466.8" width="13.4" height="9.4" rx="2.6" fill="url(#tg2)"/>
<rect x="617.5" y="338.8" width="17.1" height="153" fill="#fbf2fb"/>
<rect x="620.0" y="340.9" width="12.6" height="7" fill="#6a2626"/>
<rect x="620.0" y="347.8" width="12.6" height="13.7" fill="#545d2e"/>
<rect x="620.0" y="361.4" width="12.6" height="7" fill="#e2ff00"/>
<rect x="620.0" y="368.3" width="12.6" height="121.6" fill="#0ef50e"/>
<rect x="620.3" y="341.2" width="12.0" height="148.4" fill="none" stroke="#3a4a3a" stroke-opacity="0.45" stroke-width="0.7"/>
<text x="614.3" y="345.5" text-anchor="end" font-size="10" fill="#1c1c1c" stroke="#1c1c1c" stroke-width="0.08" textLength="9.6" lengthAdjust="spacingAndGlyphs" >10</text>
<rect x="616.6" y="341.4" width="1.8" height="1.2" fill="#555"/>
<text x="614.3" y="366.8" text-anchor="end" font-size="10" fill="#1c1c1c" stroke="#1c1c1c" stroke-width="0.08" textLength="4.8" lengthAdjust="spacingAndGlyphs" >0</text>
<rect x="616.6" y="362.7" width="1.8" height="1.2" fill="#555"/>
<text x="614.3" y="388.1" text-anchor="end" font-size="10" fill="#1c1c1c" stroke="#1c1c1c" stroke-width="0.08" textLength="13.7" lengthAdjust="spacingAndGlyphs" >-10</text>
<rect x="616.6" y="384.0" width="1.8" height="1.2" fill="#555"/>
<text x="614.3" y="409.4" text-anchor="end" font-size="10" fill="#1c1c1c" stroke="#1c1c1c" stroke-width="0.08" textLength="13.7" lengthAdjust="spacingAndGlyphs" >-20</text>
<rect x="616.6" y="405.3" width="1.8" height="1.2" fill="#555"/>
<text x="614.3" y="430.7" text-anchor="end" font-size="10" fill="#1c1c1c" stroke="#1c1c1c" stroke-width="0.08" textLength="13.7" lengthAdjust="spacingAndGlyphs" >-30</text>
<rect x="616.6" y="426.6" width="1.8" height="1.2" fill="#555"/>
<text x="614.3" y="451.9" text-anchor="end" font-size="10" fill="#1c1c1c" stroke="#1c1c1c" stroke-width="0.08" textLength="13.7" lengthAdjust="spacingAndGlyphs" >-40</text>
<rect x="616.6" y="447.8" width="1.8" height="1.2" fill="#555"/>
<text x="614.3" y="473.2" text-anchor="end" font-size="10" fill="#1c1c1c" stroke="#1c1c1c" stroke-width="0.08" textLength="13.7" lengthAdjust="spacingAndGlyphs" >-50</text>
<rect x="616.6" y="469.1" width="1.8" height="1.2" fill="#555"/>
<text x="614.3" y="494.5" text-anchor="end" font-size="10" fill="#1c1c1c" stroke="#1c1c1c" stroke-width="0.08" textLength="13.7" lengthAdjust="spacingAndGlyphs" >-60</text>
<rect x="616.6" y="490.4" width="1.8" height="1.2" fill="#555"/>
<rect x="678.7" y="338.8" width="17.1" height="153" fill="#fbf2fb"/>
<rect x="681.2" y="340.9" width="12.6" height="7" fill="#6a2626"/>
<rect x="681.2" y="347.8" width="12.6" height="13.7" fill="#545d2e"/>
<rect x="681.2" y="361.4" width="12.6" height="7" fill="#e2ff00"/>
<rect x="681.2" y="368.3" width="12.6" height="121.6" fill="#0ef50e"/>
<rect x="681.5" y="341.2" width="12.0" height="148.4" fill="none" stroke="#3a4a3a" stroke-opacity="0.45" stroke-width="0.7"/>
<text x="674.8" y="345.5" text-anchor="end" font-size="10" fill="#1c1c1c" stroke="#1c1c1c" stroke-width="0.08" textLength="9.6" lengthAdjust="spacingAndGlyphs" >10</text>
<rect x="677.2" y="341.4" width="1.8" height="1.2" fill="#555"/>
<text x="674.8" y="366.8" text-anchor="end" font-size="10" fill="#1c1c1c" stroke="#1c1c1c" stroke-width="0.08" textLength="4.8" lengthAdjust="spacingAndGlyphs" >0</text>
<rect x="677.2" y="362.7" width="1.8" height="1.2" fill="#555"/>
<text x="674.8" y="388.1" text-anchor="end" font-size="10" fill="#1c1c1c" stroke="#1c1c1c" stroke-width="0.08" textLength="13.7" lengthAdjust="spacingAndGlyphs" >-10</text>
<rect x="677.2" y="384.0" width="1.8" height="1.2" fill="#555"/>
<text x="674.8" y="409.4" text-anchor="end" font-size="10" fill="#1c1c1c" stroke="#1c1c1c" stroke-width="0.08" textLength="13.7" lengthAdjust="spacingAndGlyphs" >-20</text>
<rect x="677.2" y="405.3" width="1.8" height="1.2" fill="#555"/>
<text x="674.8" y="430.7" text-anchor="end" font-size="10" fill="#1c1c1c" stroke="#1c1c1c" stroke-width="0.08" textLength="13.7" lengthAdjust="spacingAndGlyphs" >-30</text>
<rect x="677.2" y="426.6" width="1.8" height="1.2" fill="#555"/>
<text x="674.8" y="451.9" text-anchor="end" font-size="10" fill="#1c1c1c" stroke="#1c1c1c" stroke-width="0.08" textLength="13.7" lengthAdjust="spacingAndGlyphs" >-40</text>
<rect x="677.2" y="447.8" width="1.8" height="1.2" fill="#555"/>
<text x="674.8" y="473.2" text-anchor="end" font-size="10" fill="#1c1c1c" stroke="#1c1c1c" stroke-width="0.08" textLength="13.7" lengthAdjust="spacingAndGlyphs" >-50</text>
<rect x="677.2" y="469.1" width="1.8" height="1.2" fill="#555"/>
<text x="674.8" y="494.5" text-anchor="end" font-size="10" fill="#1c1c1c" stroke="#1c1c1c" stroke-width="0.08" textLength="13.7" lengthAdjust="spacingAndGlyphs" >-60</text>
<rect x="677.2" y="490.4" width="1.8" height="1.2" fill="#555"/>
</g>
</svg>
</div>
</body></html>
